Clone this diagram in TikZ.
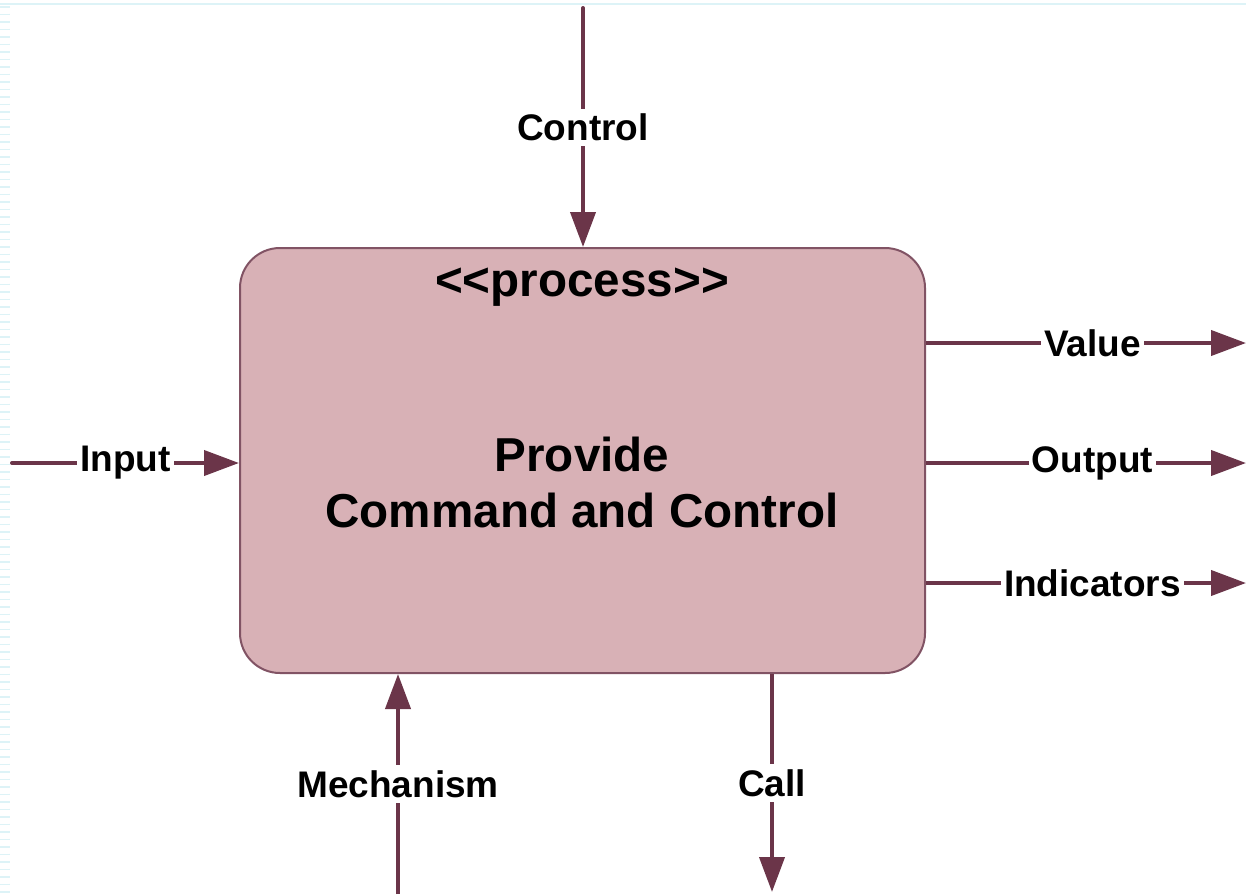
\documentclass[tikz,border=0pt]{standalone}
\usepackage{fontspec}
\setmainfont{Liberation Sans}
\usetikzlibrary{arrows.meta}
\definecolor{boxfill}{HTML}{D8B1B6}
\definecolor{wine}{HTML}{6B3549}
\definecolor{sky}{HTML}{DDF3F7}
\begin{document}
\begin{tikzpicture}[x=1pt,y=-1pt,
  flow/.style={draw=wine, line width=4pt, -{Triangle[length=35pt,width=25pt]}},
  lbl/.style={fill=white, text=black, font=\fontsize{37}{44}\selectfont\bfseries, inner xsep=3pt, inner ysep=5pt},
  proc/.style={draw=wine!85, line width=2pt, fill=boxfill, rounded corners=40pt, minimum width=685pt, minimum height=425pt},
  big/.style={font=\fontsize{47.6}{56}\selectfont\bfseries, text=black, inner sep=0pt}]
\useasboundingbox (0,0) rectangle (1246,894);
\fill[white] (0,0) rectangle (1246,894);
\draw[sky, line width=1.5pt] (0,4) -- (1246,4);
\draw[sky, line width=10pt, dash pattern=on 1.5pt off 6pt] (5,6) -- (5,894);
\node[proc] (box) at (582.5,460.5) {};
\node[big, anchor=base] (stereo) at (582,296) {<{}<process>{}>};
\node[big, anchor=base, align=center] (title) at (582,527) {Provide\\Command and Control};
% arrows
\coordinate (ctrlS) at (583,8);
\coordinate (inS) at (12,463);
\coordinate (valE) at (1246,343);
\coordinate (outE) at (1246,463);
\coordinate (indE) at (1246,583);
\coordinate (mechS) at (398,894);
\coordinate (callE) at (772,892);
\draw[flow, line cap=round] (ctrlS) -- node[lbl] (lctrl) {Control} (ctrlS |- box.north);
\draw[flow, line cap=round] (inS) -- node[lbl] (lin) {Input} (inS -| box.west);
\draw[flow] (valE -| box.east) -- node[lbl, pos=0.52] (lval) {Value} (valE);
\draw[flow] (outE -| box.east) -- node[lbl, pos=0.52] (lout) {Output} (outE);
\draw[flow] (indE -| box.east) -- node[lbl, pos=0.52] (lind) {Indicators} (indE);
\draw[flow] (mechS) -- node[lbl] (lmech) {Mechanism} (mechS |- box.south);
\draw[flow] (callE |- box.south) -- node[lbl] (lcall) {Call} (callE);
\end{tikzpicture}
\end{document}
